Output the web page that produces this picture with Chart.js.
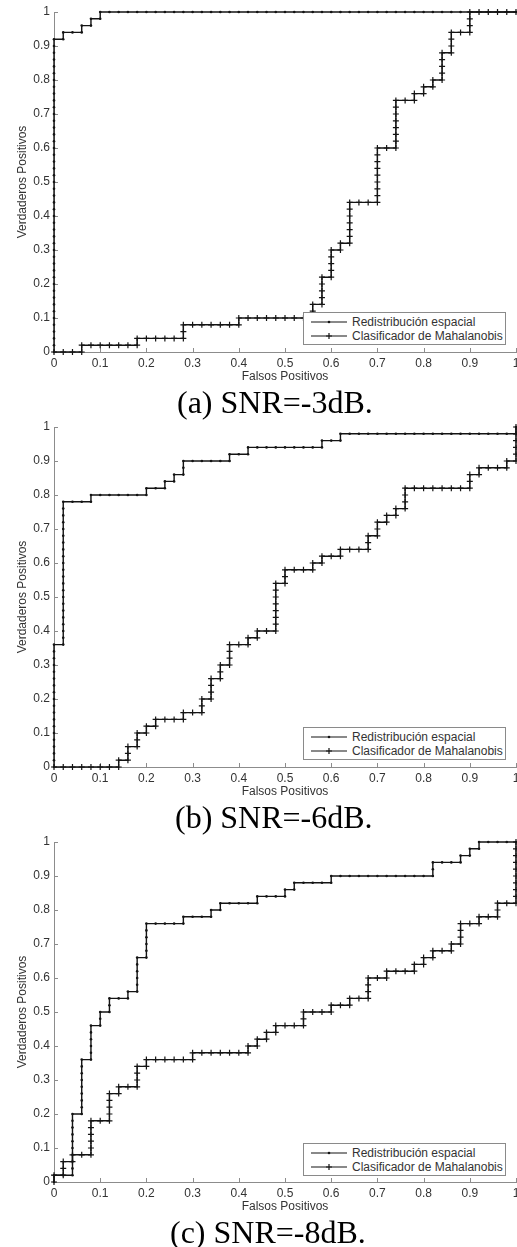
<!DOCTYPE html>
<html lang="es">
<head>
    <meta charset="UTF-8">
    <title>Curvas ROC - Redistribución espacial vs. Mahalanobis</title>
    <script src="https://cdn.jsdelivr.net/npm/chart.js@4.4.3/dist/chart.umd.min.js"></script>
    <style>
        html, body { margin: 0; padding: 0; background: #fff; overflow: hidden; }
        body { width: 517px; height: 1247px; position: relative; }
        canvas { position: absolute; left: 0; }
        .caption {
            position: absolute;
            font-family: 'Liberation Serif', 'Times New Roman', serif;
            font-size: 32px;
            line-height: 32px;
            color: #000;
            white-space: nowrap;
        }
        .legend {
            position: absolute;
            left: 303px;
            width: 203px;
            height: 33px;
            border: 1px solid #8a8a8a;
            background: #fff;
            box-sizing: border-box;
            font-family: 'Liberation Sans', Arial, sans-serif;
            font-size: 12px;
            color: #333;
        }
        .legend .row { position: absolute; left: 7px; height: 14px; line-height: 14px; white-space: nowrap; }
        .legend svg { vertical-align: top; margin-right: 5px; }
    </style>
</head>
<body>
    <canvas id="rocA" width="517" height="385" style="top:0px"></canvas>
    <canvas id="rocB" width="517" height="385" style="top:415px"></canvas>
    <canvas id="rocC" width="517" height="385" style="top:830px"></canvas>

    <script>
        // Textos
        const seriesNames = ['Redistribución espacial', 'Clasificador de Mahalanobis'];
        const xTitle = 'Falsos Positivos';
        const yTitle = 'Verdaderos Positivos';
        const captions = ['(a) SNR=-3dB.', '(b) SNR=-6dB.', '(c) SNR=-8dB.'];

        // Puntos ROC [falsos positivos, verdaderos positivos] - SNR=-3dB
        const redA = [
            [0,0],[0,0.02],[0,0.04],[0,0.06],[0,0.08],[0,0.1],[0,0.12],[0,0.14],[0,0.16],[0,0.18],
            [0,0.2],[0,0.22],[0,0.24],[0,0.26],[0,0.28],[0,0.3],[0,0.32],[0,0.34],[0,0.36],[0,0.38],
            [0,0.4],[0,0.42],[0,0.44],[0,0.46],[0,0.48],[0,0.5],[0,0.52],[0,0.54],[0,0.56],[0,0.58],
            [0,0.6],[0,0.62],[0,0.64],[0,0.66],[0,0.68],[0,0.7],[0,0.72],[0,0.74],[0,0.76],[0,0.78],
            [0,0.8],[0,0.82],[0,0.84],[0,0.86],[0,0.88],[0,0.9],[0,0.92],
            [0.02,0.92],[0.02,0.94],[0.04,0.94],[0.06,0.94],[0.06,0.96],[0.08,0.96],[0.08,0.98],[0.1,0.98],[0.1,1],
            [0.12,1],[0.14,1],[0.16,1],[0.18,1],[0.2,1],[0.22,1],[0.24,1],[0.26,1],[0.28,1],[0.3,1],
            [0.32,1],[0.34,1],[0.36,1],[0.38,1],[0.4,1],[0.42,1],[0.44,1],[0.46,1],[0.48,1],[0.5,1],
            [0.52,1],[0.54,1],[0.56,1],[0.58,1],[0.6,1],[0.62,1],[0.64,1],[0.66,1],[0.68,1],[0.7,1],
            [0.72,1],[0.74,1],[0.76,1],[0.78,1],[0.8,1],[0.82,1],[0.84,1],[0.86,1],[0.88,1],[0.9,1],
            [0.92,1],[0.94,1],[0.96,1],[0.98,1],[1,1]
        ];
        const mahA = [
            [0,0],[0.02,0],[0.04,0],[0.06,0],
            [0.06,0.02],[0.08,0.02],[0.1,0.02],[0.12,0.02],[0.14,0.02],[0.16,0.02],[0.18,0.02],
            [0.18,0.04],[0.2,0.04],[0.22,0.04],[0.24,0.04],[0.26,0.04],[0.28,0.04],
            [0.28,0.06],[0.28,0.08],[0.3,0.08],[0.32,0.08],[0.34,0.08],[0.36,0.08],[0.38,0.08],[0.4,0.08],
            [0.4,0.1],[0.42,0.1],[0.44,0.1],[0.46,0.1],[0.48,0.1],[0.5,0.1],[0.52,0.1],[0.54,0.1],[0.56,0.1],
            [0.56,0.12],[0.56,0.14],[0.58,0.14],
            [0.58,0.16],[0.58,0.18],[0.58,0.2],[0.58,0.22],[0.6,0.22],
            [0.6,0.24],[0.6,0.26],[0.6,0.28],[0.6,0.3],[0.62,0.3],
            [0.62,0.32],[0.64,0.32],
            [0.64,0.34],[0.64,0.36],[0.64,0.38],[0.64,0.4],[0.64,0.42],[0.64,0.44],[0.66,0.44],[0.68,0.44],[0.7,0.44],
            [0.7,0.46],[0.7,0.48],[0.7,0.5],[0.7,0.52],[0.7,0.54],[0.7,0.56],[0.7,0.58],[0.7,0.6],[0.72,0.6],[0.74,0.6],
            [0.74,0.62],[0.74,0.64],[0.74,0.66],[0.74,0.68],[0.74,0.7],[0.74,0.72],[0.74,0.74],[0.76,0.74],[0.78,0.74],
            [0.78,0.76],[0.8,0.76],[0.8,0.78],[0.82,0.78],[0.82,0.8],[0.84,0.8],
            [0.84,0.82],[0.84,0.84],[0.84,0.86],[0.84,0.88],[0.86,0.88],
            [0.86,0.9],[0.86,0.92],[0.86,0.94],[0.88,0.94],[0.9,0.94],
            [0.9,0.96],[0.9,0.98],[0.9,1],[0.92,1],[0.94,1],[0.96,1],[0.98,1],[1,1]
        ];

        // SNR=-6dB
        const redB = [
            [0,0],[0,0.02],[0,0.04],[0,0.06],[0,0.08],[0,0.1],[0,0.12],[0,0.14],[0,0.16],[0,0.18],
            [0,0.2],[0,0.22],[0,0.24],[0,0.26],[0,0.28],[0,0.3],[0,0.32],[0,0.34],[0,0.36],
            [0.02,0.36],[0.02,0.38],[0.02,0.4],[0.02,0.42],[0.02,0.44],[0.02,0.46],[0.02,0.48],[0.02,0.5],
            [0.02,0.52],[0.02,0.54],[0.02,0.56],[0.02,0.58],[0.02,0.6],[0.02,0.62],[0.02,0.64],[0.02,0.66],
            [0.02,0.68],[0.02,0.7],[0.02,0.72],[0.02,0.74],[0.02,0.76],[0.02,0.78],
            [0.04,0.78],[0.06,0.78],[0.08,0.78],[0.08,0.8],[0.1,0.8],[0.12,0.8],[0.14,0.8],[0.16,0.8],[0.18,0.8],[0.2,0.8],
            [0.2,0.82],[0.22,0.82],[0.24,0.82],[0.24,0.84],[0.26,0.84],[0.26,0.86],[0.28,0.86],[0.28,0.88],[0.28,0.9],
            [0.3,0.9],[0.32,0.9],[0.34,0.9],[0.36,0.9],[0.38,0.9],[0.38,0.92],[0.4,0.92],[0.42,0.92],[0.42,0.94],
            [0.44,0.94],[0.46,0.94],[0.48,0.94],[0.5,0.94],[0.52,0.94],[0.54,0.94],[0.56,0.94],[0.58,0.94],
            [0.58,0.96],[0.6,0.96],[0.62,0.96],[0.62,0.98],
            [0.64,0.98],[0.66,0.98],[0.68,0.98],[0.7,0.98],[0.72,0.98],[0.74,0.98],[0.76,0.98],[0.78,0.98],[0.8,0.98],
            [0.82,0.98],[0.84,0.98],[0.86,0.98],[0.88,0.98],[0.9,0.98],[0.92,0.98],[0.94,0.98],[0.96,0.98],[0.98,0.98],
            [1,0.98],[1,1]
        ];
        const mahB = [
            [0,0],[0.02,0],[0.04,0],[0.06,0],[0.08,0],[0.1,0],[0.12,0],[0.14,0],
            [0.14,0.02],[0.16,0.02],[0.16,0.04],[0.16,0.06],[0.18,0.06],[0.18,0.08],[0.18,0.1],[0.2,0.1],
            [0.2,0.12],[0.22,0.12],[0.22,0.14],[0.24,0.14],[0.26,0.14],[0.28,0.14],[0.28,0.16],[0.3,0.16],[0.32,0.16],
            [0.32,0.18],[0.32,0.2],[0.34,0.2],[0.34,0.22],[0.34,0.24],[0.34,0.26],[0.36,0.26],[0.36,0.28],[0.36,0.3],
            [0.38,0.3],[0.38,0.32],[0.38,0.34],[0.38,0.36],[0.4,0.36],[0.42,0.36],[0.42,0.38],[0.44,0.38],[0.44,0.4],
            [0.46,0.4],[0.48,0.4],[0.48,0.42],[0.48,0.44],[0.48,0.46],[0.48,0.48],[0.48,0.5],[0.48,0.52],[0.48,0.54],
            [0.5,0.54],[0.5,0.56],[0.5,0.58],[0.52,0.58],[0.54,0.58],[0.56,0.58],[0.56,0.6],[0.58,0.6],[0.58,0.62],
            [0.6,0.62],[0.62,0.62],[0.62,0.64],[0.64,0.64],[0.66,0.64],[0.68,0.64],[0.68,0.66],[0.68,0.68],[0.7,0.68],
            [0.7,0.7],[0.7,0.72],[0.72,0.72],[0.72,0.74],[0.74,0.74],[0.74,0.76],[0.76,0.76],
            [0.76,0.78],[0.76,0.8],[0.76,0.82],[0.78,0.82],[0.8,0.82],[0.82,0.82],[0.84,0.82],[0.86,0.82],[0.88,0.82],[0.9,0.82],
            [0.9,0.84],[0.9,0.86],[0.92,0.86],[0.92,0.88],[0.94,0.88],[0.96,0.88],[0.98,0.88],[0.98,0.9],[1,0.9],
            [1,0.92],[1,0.94],[1,0.96],[1,0.98],[1,1]
        ];

        // SNR=-8dB
        const redC = [
            [0,0],[0,0.02],[0.02,0.02],[0.04,0.02],
            [0.04,0.04],[0.04,0.06],[0.04,0.08],[0.04,0.1],[0.04,0.12],[0.04,0.14],[0.04,0.16],[0.04,0.18],[0.04,0.2],
            [0.06,0.2],[0.06,0.22],[0.06,0.24],[0.06,0.26],[0.06,0.28],[0.06,0.3],[0.06,0.32],[0.06,0.34],[0.06,0.36],
            [0.08,0.36],[0.08,0.38],[0.08,0.4],[0.08,0.42],[0.08,0.44],[0.08,0.46],
            [0.1,0.46],[0.1,0.48],[0.1,0.5],[0.12,0.5],[0.12,0.52],[0.12,0.54],[0.14,0.54],[0.16,0.54],[0.16,0.56],
            [0.18,0.56],[0.18,0.58],[0.18,0.6],[0.18,0.62],[0.18,0.64],[0.18,0.66],
            [0.2,0.66],[0.2,0.68],[0.2,0.7],[0.2,0.72],[0.2,0.74],[0.2,0.76],
            [0.22,0.76],[0.24,0.76],[0.26,0.76],[0.28,0.76],[0.28,0.78],[0.3,0.78],[0.32,0.78],[0.34,0.78],[0.34,0.8],
            [0.36,0.8],[0.36,0.82],[0.38,0.82],[0.4,0.82],[0.42,0.82],[0.44,0.82],[0.44,0.84],
            [0.46,0.84],[0.48,0.84],[0.5,0.84],[0.5,0.86],[0.52,0.86],[0.52,0.88],
            [0.54,0.88],[0.56,0.88],[0.58,0.88],[0.6,0.88],[0.6,0.9],
            [0.62,0.9],[0.64,0.9],[0.66,0.9],[0.68,0.9],[0.7,0.9],[0.72,0.9],[0.74,0.9],[0.76,0.9],[0.78,0.9],[0.8,0.9],[0.82,0.9],
            [0.82,0.92],[0.82,0.94],[0.84,0.94],[0.86,0.94],[0.88,0.94],[0.88,0.96],[0.9,0.96],[0.9,0.98],[0.92,0.98],[0.92,1],
            [0.94,1],[0.96,1],[0.98,1],[1,1]
        ];
        const mahC = [
            [0,0],[0,0.02],[0.02,0.02],[0.02,0.04],[0.02,0.06],[0.04,0.06],[0.04,0.08],[0.06,0.08],[0.08,0.08],
            [0.08,0.1],[0.08,0.12],[0.08,0.14],[0.08,0.16],[0.08,0.18],[0.1,0.18],[0.12,0.18],
            [0.12,0.2],[0.12,0.22],[0.12,0.24],[0.12,0.26],[0.14,0.26],[0.14,0.28],[0.16,0.28],[0.18,0.28],
            [0.18,0.3],[0.18,0.32],[0.18,0.34],[0.2,0.34],[0.2,0.36],
            [0.22,0.36],[0.24,0.36],[0.26,0.36],[0.28,0.36],[0.3,0.36],[0.3,0.38],
            [0.32,0.38],[0.34,0.38],[0.36,0.38],[0.38,0.38],[0.4,0.38],[0.42,0.38],[0.42,0.4],[0.44,0.4],[0.44,0.42],
            [0.46,0.42],[0.46,0.44],[0.48,0.44],[0.48,0.46],[0.5,0.46],[0.52,0.46],[0.54,0.46],[0.54,0.48],[0.54,0.5],
            [0.56,0.5],[0.58,0.5],[0.6,0.5],[0.6,0.52],[0.62,0.52],[0.64,0.52],[0.64,0.54],[0.66,0.54],[0.68,0.54],
            [0.68,0.56],[0.68,0.58],[0.68,0.6],[0.7,0.6],[0.72,0.6],[0.72,0.62],[0.74,0.62],[0.76,0.62],[0.78,0.62],
            [0.78,0.64],[0.8,0.64],[0.8,0.66],[0.82,0.66],[0.82,0.68],[0.84,0.68],[0.86,0.68],[0.86,0.7],[0.88,0.7],
            [0.88,0.72],[0.88,0.74],[0.88,0.76],[0.9,0.76],[0.92,0.76],[0.92,0.78],[0.94,0.78],[0.96,0.78],
            [0.96,0.8],[0.96,0.82],[0.98,0.82],[1,0.82],
            [1,0.84],[1,0.86],[1,0.88],[1,0.9],[1,0.92],[1,0.94],[1,0.96],[1,0.98],[1,1]
        ];

        const ink = '#141414';
        const axisColor = '#8c8c8c';
        const textColor = '#333';

        Chart.defaults.font.family = "'Liberation Sans', Arial, sans-serif";
        Chart.defaults.font.size = 12;

        // MATLAB style: small tick marks pointing into the plot
        const inwardTicks = {
            id: 'inwardTicks',
            beforeDatasetsDraw(chart) {
                const { ctx, chartArea, scales: { x, y } } = chart;
                ctx.save();
                ctx.strokeStyle = axisColor;
                ctx.lineWidth = 1;
                ctx.beginPath();
                x.ticks.forEach(t => {
                    const px = Math.round(x.getPixelForValue(t.value)) + 0.5;
                    ctx.moveTo(px, chartArea.bottom);
                    ctx.lineTo(px, chartArea.bottom - 4);
                });
                y.ticks.forEach(t => {
                    const py = Math.round(y.getPixelForValue(t.value)) + 0.5;
                    ctx.moveTo(chartArea.left, py);
                    ctx.lineTo(chartArea.left + 4, py);
                });
                ctx.stroke();
                ctx.restore();
            }
        };

        const toXY = pts => pts.map(p => ({ x: p[0], y: p[1] }));
        // MATLAB prints 0, 0.1, ..., 1 (no trailing zero)
        const tickLabel = v => String(Number(v.toFixed(1)));

        function buildChart(canvasId, red, mah) {
            return new Chart(document.getElementById(canvasId), {
                type: 'scatter',
                data: {
                    datasets: [
                        {
                            label: seriesNames[0],
                            data: toXY(red),
                            showLine: true,
                            borderColor: ink,
                            borderWidth: 1.4,
                            pointStyle: 'circle',
                            pointRadius: 1.3,
                            pointBackgroundColor: ink,
                            pointBorderWidth: 0,
                            clip: false
                        },
                        {
                            label: seriesNames[1],
                            data: toXY(mah),
                            showLine: true,
                            borderColor: ink,
                            borderWidth: 1.4,
                            pointStyle: 'cross',
                            pointRadius: 3,
                            pointBorderColor: ink,
                            pointBorderWidth: 1.2,
                            clip: false
                        }
                    ]
                },
                options: {
                    responsive: false,
                    animation: false,
                    events: [],
                    layout: { autoPadding: false, padding: { top: 12, left: 0, right: 1, bottom: 0 } },
                    plugins: { legend: { display: false }, tooltip: { enabled: false } },
                    scales: {
                        x: {
                            type: 'linear',
                            min: 0,
                            max: 1,
                            ticks: { stepSize: 0.1, color: textColor, padding: 4, maxRotation: 0, autoSkip: false, callback: tickLabel },
                            grid: { display: false, drawTicks: false },
                            border: { display: true, color: axisColor, width: 1 },
                            title: { display: true, text: xTitle, color: textColor, padding: { top: 0, bottom: 1 } },
                            // fixed height; the last label "1" may run off the page like in the original
                            afterFit(scale) { scale.height = 33; scale.paddingRight = 0; }
                        },
                        y: {
                            type: 'linear',
                            min: 0,
                            max: 1,
                            ticks: { stepSize: 0.1, color: textColor, padding: 4, callback: tickLabel },
                            grid: { display: false, drawTicks: false },
                            border: { display: true, color: axisColor, width: 1 },
                            title: { display: true, text: yTitle, color: textColor, padding: { top: 15, bottom: 0 } },
                            afterFit(scale) { scale.width = 54; }
                        }
                    }
                },
                plugins: [inwardTicks]
            });
        }

        function sampleSvg(kind) {
            const marker = kind === 'dot'
                ? '<circle cx="18" cy="7" r="1.3" fill="' + ink + '"/>'
                : '<path d="M18 4V10M15 7H21" stroke="' + ink + '" stroke-width="1.2"/>';
            return '<svg width="36" height="14" viewBox="0 0 36 14"><path d="M0 7H36" stroke="' + ink + '" stroke-width="1.2"/>' + marker + '</svg>';
        }

        function addLegend(top) {
            const box = document.createElement('div');
            box.className = 'legend';
            box.style.top = top + 'px';
            box.innerHTML =
                '<div class="row" style="top:2px">' + sampleSvg('dot') + seriesNames[0] + '</div>' +
                '<div class="row" style="top:16px">' + sampleSvg('cross') + seriesNames[1] + '</div>';
            document.body.appendChild(box);
        }

        function addCaption(text, left, top) {
            const el = document.createElement('div');
            el.className = 'caption';
            el.style.left = left + 'px';
            el.style.top = top + 'px';
            el.textContent = text;
            document.body.appendChild(el);
        }

        buildChart('rocA', redA, mahA);
        buildChart('rocB', redB, mahB);
        buildChart('rocC', redC, mahC);

        addLegend(312);
        addLegend(727);
        addLegend(1143);

        addCaption(captions[0], 177, 386);
        addCaption(captions[1], 175, 801);
        addCaption(captions[2], 170, 1216);
    </script>
</body>
</html>
